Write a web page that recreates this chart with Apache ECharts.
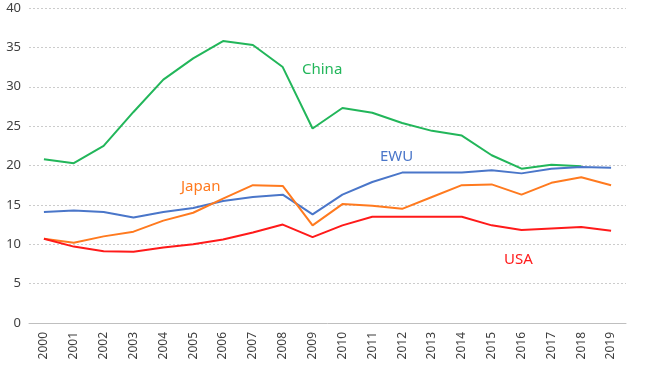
<!DOCTYPE html>
<html>
<head>
<meta charset="utf-8">
<script src="https://cdn.jsdelivr.net/npm/echarts@6/dist/echarts.min.js"></script>
<style>html,body{margin:0;padding:0;background:#fff;}#c{width:663px;height:371px;}</style>
</head>
<body>
<div id="c"></div>
<script>
const years = ['2000','2001','2002','2003','2004','2005','2006','2007','2008','2009','2010','2011','2012','2013','2014','2015','2016','2017','2018','2019'];
const china = [20.8,20.3,22.5,26.8,30.9,33.6,35.8,35.3,32.5,24.7,27.3,26.7,25.4,24.4,23.8,21.3,19.6,20.1,19.9,null];
const ewu   = [14.1,14.3,14.1,13.4,14.1,14.6,15.5,16.0,16.3,13.8,16.3,17.9,19.1,19.1,19.1,19.4,19.0,19.6,19.8,19.7];
const japan = [10.7,10.2,11.0,11.6,13.0,14.0,15.8,17.5,17.4,12.4,15.1,14.9,14.5,16.0,17.5,17.6,16.3,17.8,18.5,17.5];
const usa   = [10.7,9.7,9.1,9.05,9.6,10.0,10.6,11.5,12.5,10.9,12.4,13.5,13.5,13.5,13.5,12.4,11.8,12.0,12.2,11.7];
const yTicks = [0,5,10,15,20,25,30,35,40];

const C_CHINA='#22b65a', C_EWU='#4a76c9', C_JAPAN='#ff7a1f', C_USA='#ff1a1a';
const chart = echarts.init(document.getElementById('c'));
const font = '"Noto Sans", "Open Sans", sans-serif';
function line(name, data, color){
  return {name, type:'line', data, symbol:'none', connectNulls:false,
    lineStyle:{color, width:2}, itemStyle:{color}, z:2};
}
function txt(text, x, y, color){
  return {type:'text', left:x, top:y, style:{text, fill:color, font:'15px '+font}};
}
chart.setOption({
  animation:false,
  grid:{left:29, right:37, top:8, bottom:48},
  xAxis:{type:'category', data:years, boundaryGap:true,
    axisLine:{lineStyle:{color:'#bfbfbf'}}, axisTick:{show:false},
    axisLabel:{rotate:90, color:'#404040', fontSize:12, fontFamily:font, margin:9}},
  yAxis:{type:'value', min:yTicks[0], max:yTicks[yTicks.length-1], interval:5,
    axisLine:{show:false}, axisTick:{show:false},
    axisLabel:{color:'#404040', fontSize:13, fontFamily:font, margin:8},
    splitLine:{lineStyle:{color:'#cccccc', type:[2,2]}}},
  series:[line('China',china,C_CHINA), line('EWU',ewu,C_EWU), line('Japan',japan,C_JAPAN), line('USA',usa,C_USA)],
  graphic:[txt('China',302,62,C_CHINA), txt('EWU',380,149,C_EWU), txt('Japan',181,179,C_JAPAN), txt('USA',504,252,C_USA)]
});
</script>
</body>
</html>
